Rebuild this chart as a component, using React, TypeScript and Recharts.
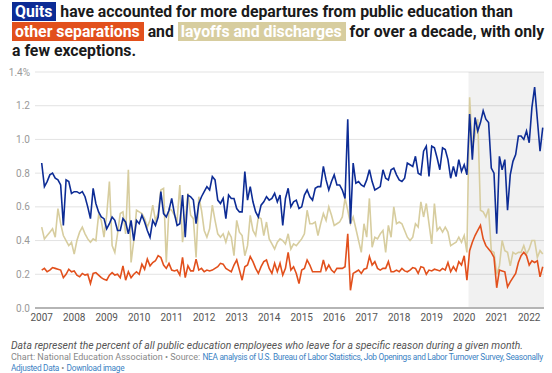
import { LineChart, Line, XAxis, YAxis, CartesianGrid, ReferenceArea } from 'recharts';

// monthly values, Jan 2007 – Jun 2022, one row per year (percent of employees)
const quits = [
  0.86, 0.72, 0.75, 0.79, 0.80, 0.77, 0.76, 0.73, 0.49, 0.76, 0.75, 0.68,
  0.69, 0.69, 0.68, 0.69, 0.66, 0.60, 0.53, 0.71, 0.62, 0.57, 0.54, 0.53,
  0.47, 0.50, 0.54, 0.52, 0.46, 0.46, 0.53, 0.51, 0.44, 0.52, 0.40, 0.52,
  0.50, 0.55, 0.51, 0.46, 0.42, 0.52, 0.49, 0.54, 0.69, 0.56, 0.54, 0.58,
  0.65, 0.56, 0.49, 0.50, 0.67, 0.42, 0.67, 0.66, 0.64, 0.50, 0.62, 0.66,
  0.69, 0.72, 0.70, 0.78, 0.76, 0.64, 0.62, 0.65, 0.53, 0.67, 0.65, 0.65,
  0.59, 0.57, 0.57, 0.81, 0.64, 0.72, 0.63, 0.57, 0.54, 0.61, 0.63, 0.66,
  0.64, 0.65, 0.68, 0.63, 0.67, 0.49, 0.65, 0.71, 0.60, 0.63, 0.64, 0.59,
  0.60, 0.67, 0.70, 0.66, 0.64, 0.71, 0.72, 0.72, 0.84, 0.76, 0.70, 0.75,
  0.79, 0.73, 0.73, 0.70, 0.65, 1.12, 0.50, 0.86, 0.74, 0.75, 0.73, 0.72,
  0.76, 0.82, 0.75, 0.70, 0.71, 0.72, 0.82, 0.77, 0.76, 0.82, 0.83, 0.79,
  0.76, 0.75, 0.77, 0.86, 0.85, 0.84, 0.90, 0.80, 0.79, 0.93, 0.96, 0.78,
  0.96, 0.95, 0.89, 0.82, 0.95, 0.94, 0.88, 0.77, 0.84, 0.78, 0.88, 0.81,
  0.85, 0.79, 1.15, 0.88, 1.13, 1.05, 1.10, 1.17, 1.12, 1.10, 0.83, 0.80,
  0.44, 0.90, 0.82, 0.88, 0.58, 0.79, 0.87, 0.91, 1.02, 1.02, 1.00, 1.05,
  0.98, 1.19, 1.31, 1.12, 0.93, 1.07,
];

const layoffs = [
  0.48, 0.41, 0.43, 0.45, 0.47, 0.42, 0.59, 0.50, 0.43, 0.40, 0.37, 0.39,
  0.32, 0.40, 0.45, 0.48, 0.44, 0.41, 0.39, 0.41, 0.40, 0.55, 0.52, 0.42,
  0.55, 0.75, 0.37, 0.33, 0.44, 0.56, 0.57, 0.44, 0.82, 0.27, 0.40, 0.58,
  0.57, 0.56, 0.53, 0.48, 0.52, 0.61, 0.52, 0.56, 0.70, 0.71, 0.27, 0.59,
  0.58, 0.55, 0.52, 0.73, 0.39, 0.52, 0.68, 0.55, 0.53, 0.30, 0.66, 0.58,
  0.46, 0.42, 0.47, 0.61, 0.52, 0.44, 0.42, 0.44, 0.39, 0.45, 0.42, 0.31,
  0.52, 0.45, 0.43, 0.31, 0.37, 0.55, 0.46, 0.43, 0.54, 0.53, 0.43, 0.51,
  0.41, 0.38, 0.35, 0.39, 0.41, 0.40, 0.38, 0.44, 0.35, 0.38, 0.37, 0.39,
  0.41, 0.44, 0.58, 0.50, 0.50, 0.51, 0.43, 0.50, 0.56, 0.52, 0.60, 0.55,
  0.49, 0.50, 0.51, 0.54, 0.65, 0.58, 0.50, 0.54, 0.47, 0.40, 0.33, 0.50,
  0.42, 0.65, 0.36, 0.42, 0.41, 0.44, 0.46, 0.33, 0.49, 0.42, 0.60, 0.50,
  0.51, 0.50, 0.46, 0.42, 0.40, 0.42, 0.50, 0.48, 0.63, 0.54, 0.62, 0.50,
  0.38, 0.62, 0.46, 0.48, 0.45, 0.48, 0.45, 0.37, 0.38, 0.39, 0.42, 0.39,
  0.43, 0.33, 1.25, 0.95, 1.03, 1.12, 0.58, 0.57, 0.54, 0.59, 0.34, 0.33,
  0.20, 0.25, 0.40, 0.34, 0.33, 0.25, 0.33, 0.32, 0.33, 0.33, 0.37, 0.32,
  0.35, 0.40, 0.40, 0.30, 0.34, 0.32,
];

const otherSeparations = [
  0.225, 0.235, 0.215, 0.225, 0.24, 0.235, 0.23, 0.225, 0.18, 0.20, 0.23, 0.215,
  0.22, 0.195, 0.185, 0.205, 0.195, 0.20, 0.145, 0.205, 0.21, 0.195, 0.18, 0.17,
  0.165, 0.195, 0.21, 0.195, 0.20, 0.18, 0.25, 0.165, 0.215, 0.18, 0.20, 0.215,
  0.20, 0.26, 0.23, 0.29, 0.25, 0.27, 0.28, 0.31, 0.30, 0.255, 0.235, 0.265,
  0.225, 0.22, 0.225, 0.195, 0.30, 0.18, 0.25, 0.22, 0.22, 0.29, 0.225, 0.235,
  0.215, 0.225, 0.22, 0.225, 0.235, 0.245, 0.265, 0.26, 0.235, 0.225, 0.215, 0.255,
  0.285, 0.225, 0.165, 0.245, 0.255, 0.305, 0.275, 0.235, 0.205, 0.245, 0.275, 0.285,
  0.235, 0.205, 0.265, 0.215, 0.265, 0.195, 0.235, 0.33, 0.225, 0.245, 0.205, 0.145,
  0.225, 0.235, 0.285, 0.255, 0.215, 0.215, 0.215, 0.215, 0.285, 0.225, 0.255, 0.225,
  0.21, 0.235, 0.235, 0.235, 0.245, 0.44, 0.105, 0.205, 0.215, 0.225, 0.205, 0.23,
  0.235, 0.305, 0.255, 0.275, 0.235, 0.225, 0.235, 0.235, 0.275, 0.215, 0.215, 0.225,
  0.215, 0.235, 0.22, 0.215, 0.225, 0.24, 0.235, 0.205, 0.245, 0.24, 0.20, 0.225,
  0.22, 0.23, 0.225, 0.22, 0.235, 0.225, 0.27, 0.215, 0.245, 0.22, 0.275, 0.255,
  0.31, 0.165, 0.34, 0.39, 0.43, 0.46, 0.49, 0.41, 0.37, 0.35, 0.33, 0.30,
  0.12, 0.225, 0.22, 0.215, 0.125, 0.155, 0.18, 0.205, 0.27, 0.31, 0.33, 0.31,
  0.255, 0.28, 0.27, 0.28, 0.185, 0.245,
];

const startYear = 2007;
const yearTicks = [2007, 2008, 2009, 2010, 2011, 2012, 2013, 2014, 2015, 2016, 2017, 2018, 2019, 2020, 2021, 2022];
const valueTicks = [0, 0.2, 0.4, 0.6, 0.8, 1.0, 1.2, 1.4];
const pandemic = [2020.13, 2022.455];

const BLUE = '#0d2c95';
const ORANGE = '#e2501c';
const TAN = '#d7cd9f';
const LINK = '#3b82c4';

const data = quits.map((q, i) => ({
  t: startYear + i / 12,
  quits: q,
  layoffs: layoffs[i],
  other: otherSeparations[i],
}));

const tag = (bg: string) => ({ background: bg, color: '#fff', padding: '0 4px 0 3px' });
const link = { color: LINK, fontSize: 8.3, letterSpacing: -0.3 };

export default function App() {
  return (
    <div style={{ position: 'relative', width: 552, height: 373, background: '#fff', fontFamily: 'Roboto, sans-serif' }}>
      <style>{'body{margin:0}'}</style>
      <div style={{ position: 'absolute', left: 0, top: 0 }}>
        <LineChart width={552} height={373} data={data} margin={{ top: 72, right: 8, bottom: 35, left: 0 }}>
          <ReferenceArea x1={pandemic[0]} x2={pandemic[1]} y1={0} y2={1.4} fill="#000" fillOpacity={0.055} stroke="none" />
          <CartesianGrid vertical={false} stroke="#e3e3e3" />
          <XAxis
            dataKey="t"
            type="number"
            domain={[2006.794, 2022.455]}
            ticks={yearTicks}
            tickLine={false}
            tickSize={4}
            axisLine={{ stroke: '#b5b5b5', strokeWidth: 2 }}
            height={30}
            tick={{ fontSize: 10, fill: '#555' }}
          />
          <YAxis
            domain={[0, 1.4]}
            ticks={valueTicks}
            width={35}
            tickLine={false}
            tickSize={3}
            axisLine={false}
            tick={{ fontSize: 10, fill: '#999' }}
            tickFormatter={(v: number) => (v === 1.4 ? '1.4%' : v.toFixed(1))}
          />
          <Line type="linear" dataKey="layoffs" stroke={TAN} strokeWidth={1.6} dot={false} isAnimationActive={false} />
          <Line type="linear" dataKey="other" stroke={ORANGE} strokeWidth={1.6} dot={false} isAnimationActive={false} />
          <Line type="linear" dataKey="quits" stroke={BLUE} strokeWidth={1.6} dot={false} isAnimationActive={false} />
        </LineChart>
      </div>
      <div
        style={{
          position: 'absolute', left: 12, top: 2, fontWeight: 700, fontSize: 15.8, lineHeight: '19.5px',
          color: '#1a1a1a', whiteSpace: 'nowrap',
        }}
      >
        <span style={tag(BLUE)}>Quits</span> have accounted for more departures from public education than
        <br />
        <span style={tag(ORANGE)}>other separations</span> and <span style={tag(TAN)}>layoffs and discharges</span> for over a decade, with only
        <br />
        a few exceptions.
      </div>
      <div style={{ position: 'absolute', left: 11, top: 339, fontSize: 10.4, fontStyle: 'italic', color: '#555', whiteSpace: 'nowrap' }}>
        Data represent the percent of all public education employees who leave for a specific reason during a given month.
      </div>
      <div style={{ position: 'absolute', left: 11, top: 352, fontSize: 9, lineHeight: '11px', color: '#888', whiteSpace: 'nowrap' }}>
        Chart: National Education Association • Source:{' '}
        <span style={link}>NEA analysis of U.S. Bureau of Labor Statistics, Job Openings and Labor Turnover Survey, Seasonally</span>
        <br />
        <span style={link}>Adjusted Data</span> • <span style={link}>Download image</span>
      </div>
    </div>
  );
}
